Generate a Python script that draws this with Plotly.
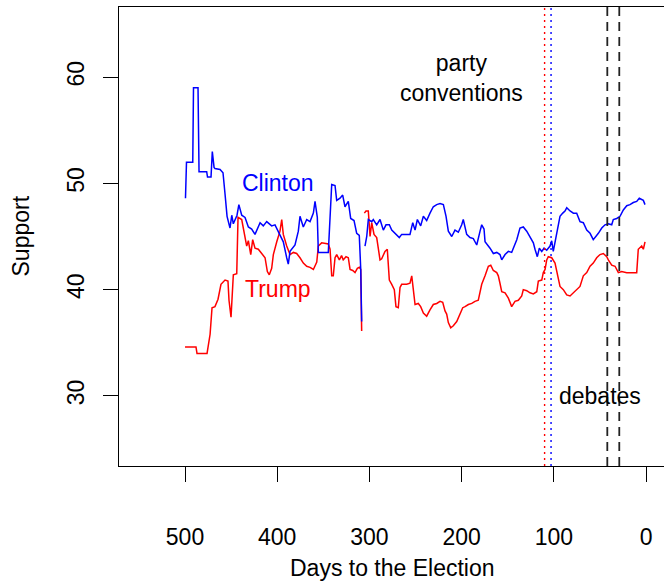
import plotly.graph_objects as go

# Poll averages by days before the election
clinton_days = [499.5, 498.4, 491.6, 490.8, 485.9, 484.8, 476.5, 475.6, 471.8, 470.4, 468.5, 467.5,
                462, 458.8, 456.6, 454.4, 451.2, 449.3, 447.6, 443.6, 441.6, 438.5, 434.9, 431.3,
                427.7, 424.1, 418.6, 415.1, 411.4, 406, 402.4, 398.8, 393.4, 389.7, 388, 386.1,
                380.7, 377.1, 375.3, 371.7, 368, 364.4, 360.8, 359, 356.5, 355.4, 344.6, 340.9,
                337.3, 335.5, 331.9, 329, 326.5, 322.9, 320.3, 316.7, 313.8, 311, 309.4, 308.4,
                None,
                304.8, 302.9, 301.2, 297.5, 295.8, 292.1, 288.5, 284.9, 282, 278.4, 275.8, 272.2,
                267.6, 265, 256, 253, 250.5, 248, 244.4, 241.5, 237.9, 234.3, 230.7, 227, 223.4,
                219.8, 216.9, 214.4, 210.7, 207.2, 203.6, 199.9, 198.2, 194.5, 190.9, 187.3, 183.6,
                180, 178.2, 175.7, 174.6, 169.2, 165.6, 161.9, 158.4, 156.5, 152.9, 149.3, 145.7,
                143.9, 140.2, 136.7, 133.1, 129.4, 125.8, 122.2, 120.4, 117.9, 115.7, 113.1, 110.6,
                107.7, 104.1, 102.3, 100.6, 97.6, 95.1, 93.3, 90.3, 87.9, 86, 82.4, 78.8, 75.2,
                71.6, 68, 64.3, 60.7, 57.2, 55.3, 51.7, 48, 44.5, 40.9, 37.2, 35.5, 31.8, 28.2,
                24.6, 20.9, 17.4, 13.8, 10.1, 7.3, 2.9, 1.1]
clinton_support = [48.6, 52.0, 52.0, 59.0, 59.0, 51.1, 51.1, 50.6, 50.6, 53.0, 51.5, 51.4,
                   51.3, 51.0, 49.0, 46.9, 45.8, 47.0, 46.2, 47.0, 48.0, 47.0, 46.8, 45.9,
                   45.7, 45.2, 46.3, 46.0, 46.4, 46.0, 46.1, 45.5, 44.5, 43.0, 42.4, 43.6,
                   44.2, 45.5, 46.9, 45.9, 46.6, 46.4, 47.2, 48.3, 46.8, 43.5, 43.5, 49.9,
                   49.8, 48.4, 48.6, 48.9, 47.8, 48.3, 46.7, 46.5, 45.3, 45.1, 41.9, 37.0,
                   None,
                   44.1, 45.0, 46.6, 46.4, 46.6, 46.1, 46.6, 45.6, 46.1, 46.1, 45.6, 45.3,
                   44.9, 45.2, 45.2, 46.3, 45.6, 46.6, 46.0, 46.9, 46.5, 47.2, 47.8, 48.0, 48.1,
                   48.0, 46.9, 45.5, 45.0, 45.6, 45.4, 46.1, 46.6, 45.2, 44.9, 44.8, 44.2,
                   45.5, 46.1, 45.7, 44.5, 43.9, 43.4, 43.5, 43.3, 42.8, 43.3, 43.6, 43.5,
                   43.9, 44.7, 45.8, 45.9, 45.5, 45.0, 44.4, 43.8, 43.1, 43.9, 43.6, 43.9,
                   43.7, 44.1, 44.6, 43.6, 45.0, 46.1, 46.9, 47.2, 47.4, 47.7, 47.4, 47.2, 47.2,
                   46.4, 46.3, 45.6, 45.3, 44.7, 44.9, 45.3, 45.8, 46.1, 46.2, 46.1, 46.6, 46.7, 46.9,
                   47.5, 47.9, 48.0, 48.2, 48.3, 48.6, 48.4, 48.0]

trump_days = [500, 488.1, 487, 476.1, 472.8, 470.7, 467.5, 464.2, 461, 456.6, 453.4, 452.3,
              450.1, 447.6, 443.9, 442.5, 438.5, 436.8, 434.9, 433.1, 431.3, 428.7, 426.6, 424.1,
              420.5, 416.8, 413.2, 410.7, 408.6, 406, 404.2, 400.5, 397, 395.1, 393.4, 389.7,
              386.1, 382.5, 378.9, 375.3, 371.7, 368, 364.4, 360.8, 357.1, 355.4, 351.8, 344.6,
              342.7, 340.9, 339.2, 337.3, 335.5, 332.6, 330.2, 328.4, 325.4, 322.9, 321, 318.1,
              315.6, 313.1, 310.9, 309.4, 308.4,
              None,
              305.5, 303.7, 301.2, 299.3, 297.5, 295, 292.1, 290.3, 288.5, 286.7, 283.1, 280.6,
              278.4, 275.8, 273, 271.2, 268.7, 266.8, 265, 259.6, 256, 254.1, 252.4, 250.5, 247,
              244.4, 241.5, 237.9, 234.3, 230.7, 227, 223.4, 220.5, 218, 216.2, 214.4, 211.8,
              209, 205.3, 201.7, 198.8, 196.3, 192.7, 189, 185.5, 181.9, 178.2, 174.6, 171,
              168.4, 165.6, 161.9, 160.2, 158.4, 156.5, 152.9, 149.3, 145.7, 142.1, 138.5,
              134.8, 133.1, 129.4, 125.8, 122.2, 118.5, 116.8, 113.1, 111.4, 109.5, 107.7, 106,
              102.3, 98.7, 95.1, 93.3, 89.7, 86, 82.4, 78.8, 75.2, 71.6, 68, 64.3, 60.7, 57.2,
              53.5, 49.9, 46.3, 42.6, 40.9, 37.2, 33.6, 30, 26.4, 20.9, 15.5, 10.1, 8.4, 4.7,
              2.9, 1.1]
trump_support = [34.6, 34.6, 34.0, 34.0, 35.8, 38.3, 38.4, 39.1, 40.5, 40.9, 40.8, 39.0,
                 37.4, 41.4, 41.5, 46.8, 46.6, 45.8, 44.9, 44.1, 44.6, 43.3, 44.7, 43.9,
                 43.8, 43.4, 43.0, 41.7, 41.4, 42.0, 43.3, 44.5, 45.5, 46.6, 45.2, 44.1,
                 43.3, 43.5, 43.4, 43.0, 42.5, 42.2, 42.1, 41.9, 42.6, 44.1, 44.4, 44.3,
                 43.8, 41.3, 41.3, 43.0, 43.3, 42.8, 43.2, 42.8, 43.1, 43.0, 41.9, 41.8,
                 41.6, 42.0, 42.1, 41.9, 36.1,
                 None,
                 47.2, 47.4, 47.4, 45.0, 46.3, 45.2, 44.9, 43.8, 42.8, 42.9, 43.6, 43.8,
                 40.9, 40.5, 40.0, 38.4, 38.3, 40.2, 40.5, 40.5, 40.6, 41.3, 40.0, 38.6, 38.7,
                 38.4, 37.8, 37.5, 38.1, 38.6, 38.7, 38.9, 38.8, 38.0, 37.7, 36.9, 36.4,
                 36.6, 37.0, 37.8, 38.3, 38.4, 38.6, 38.7, 38.9, 39.0, 40.5, 41.3, 42.2,
                 42.3, 41.8, 41.6, 41.3, 40.6, 39.8, 39.7, 39.2, 38.4, 38.9, 39.0,
                 39.4, 40.0, 39.9, 39.7, 39.6, 39.8, 40.8, 40.9, 41.6, 41.9, 42.8, 43.1,
                 43.0, 42.5, 40.9, 40.3, 40.0, 39.5, 39.4, 39.7, 40.0, 40.3, 41.3, 41.6, 42.2, 42.5,
                 43.0, 43.3, 43.4, 43.1, 42.8, 42.3, 42.2, 41.6, 41.7, 41.6, 41.6, 41.6, 43.8, 44.1,
                 43.8, 44.5]

# Event markers (days before the election)
rnc_day = 110
dnc_day = 103
debate_days = [42, 29]

x_ticks = [500, 400, 300, 200, 100, 0]
y_ticks = [30, 40, 50, 60]

FONT = "Liberation Sans, Arial, Helvetica, sans-serif"
FS = 23

fig = go.Figure()
fig.add_trace(go.Scatter(x=trump_days, y=trump_support, mode="lines",
                         line=dict(color="#FF0000", width=1.5), connectgaps=False,
                         showlegend=False))
fig.add_trace(go.Scatter(x=clinton_days, y=clinton_support, mode="lines",
                         line=dict(color="#0000FF", width=1.5), connectgaps=False,
                         showlegend=False))

# Convention (dotted) and debate (dashed) reference lines
fig.add_shape(type="line", xref="x", yref="paper", x0=rnc_day, x1=rnc_day, y0=0, y1=1,
              line=dict(color="#FF0000", width=1.4, dash="2px,4px"))
fig.add_shape(type="line", xref="x", yref="paper", x0=dnc_day, x1=dnc_day, y0=0, y1=1,
              line=dict(color="#0000FF", width=1.4, dash="2px,4px"))
for d in debate_days:
    fig.add_shape(type="line", xref="x", yref="paper", x0=d, x1=d, y0=0, y1=1,
                  line=dict(color="#222222", width=1.8, dash="9px,6px"))

ann_font = dict(family=FONT, size=FS, color="black")
fig.add_annotation(x=200, y=59.9, text="party<br>conventions", showarrow=False,
                   font=ann_font, xanchor="center", yanchor="middle")
fig.add_annotation(x=50, y=30.0, text="debates", showarrow=False,
                   font=ann_font, xanchor="center", yanchor="middle")
fig.add_annotation(x=399, y=50.0, text="Clinton", showarrow=False,
                   font=dict(family=FONT, size=FS, color="#0000FF"),
                   xanchor="center", yanchor="middle")
fig.add_annotation(x=399, y=40.1, text="Trump", showarrow=False,
                   font=dict(family=FONT, size=FS, color="#FF0000"),
                   xanchor="center", yanchor="middle")

# Axis titles
fig.add_annotation(xref="paper", yref="paper", x=0.502, y=0, yshift=-102,
                   text="Days to the Election", showarrow=False, font=ann_font,
                   xanchor="center", yanchor="middle")
fig.add_annotation(xref="paper", yref="paper", x=0, y=0.5, xshift=-99,
                   text="Support", showarrow=False, font=ann_font, textangle=-90,
                   xanchor="center", yanchor="middle")

fig.update_xaxes(range=[571.6, -19.5], tickvals=x_ticks, ticks="outside", ticklen=15,
                 tickwidth=1.3, tickcolor="black", showline=True, linecolor="black",
                 linewidth=1.3, mirror=True, showgrid=False, zeroline=False,
                 tickfont=dict(family=FONT, size=FS, color="black"), ticklabelstandoff=35)
fig.update_yaxes(range=[23.4, 66.6], tickvals=y_ticks, ticks="outside", ticklen=15,
                 tickwidth=1.3, tickcolor="black", showline=True, linecolor="black",
                 linewidth=1.3, showgrid=False, zeroline=False, tickangle=-90,
                 tickfont=dict(family=FONT, size=FS, color="black"), ticklabelstandoff=10)

fig.update_layout(width=664, height=582, margin=dict(l=119, r=0, t=7, b=116),
                  plot_bgcolor="white", paper_bgcolor="white", showlegend=False)

fig.write_html("out.html")
